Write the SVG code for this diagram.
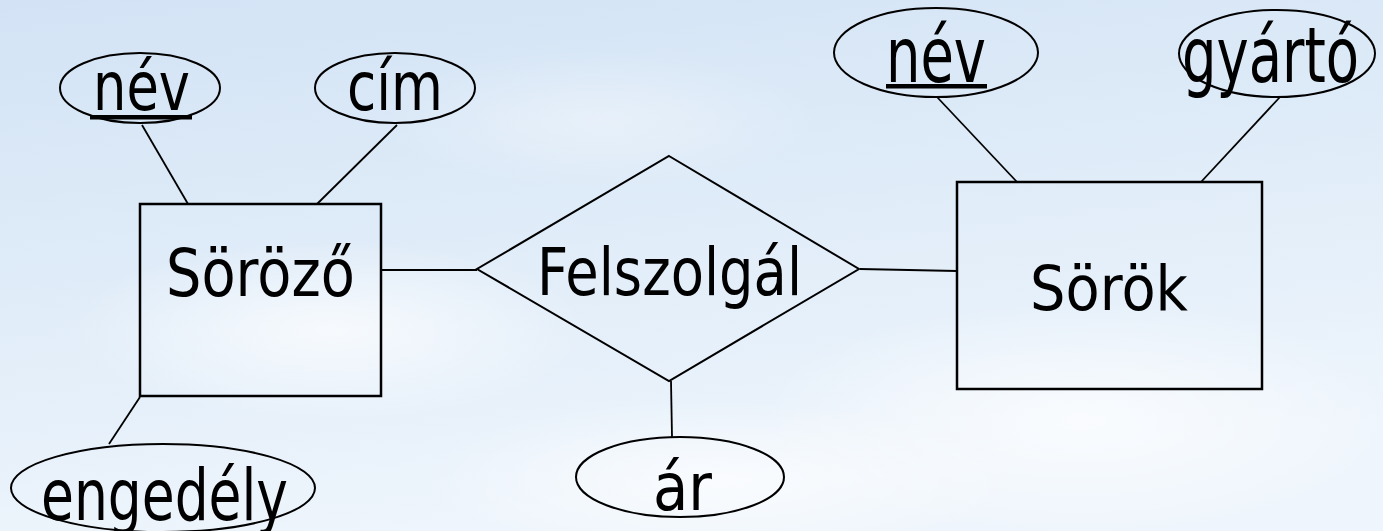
<svg xmlns="http://www.w3.org/2000/svg" width="1383" height="531" viewBox="0 0 1383 531">
<style>
.shape{fill:none;stroke:#000;stroke-width:2}
.box{fill:none;stroke:#000;stroke-width:2.5}
.conn line{stroke:#000;stroke-width:1.8}
text{font-family:"DejaVu Sans","Liberation Sans",sans-serif;fill:#000;text-anchor:start}
</style>
<defs>
<linearGradient id="sky" x1="0" y1="0" x2="0.3" y2="1">
<stop offset="0" stop-color="#d3e3f5"/>
<stop offset="0.45" stop-color="#deebf8"/>
<stop offset="1" stop-color="#eef5fc"/>
</linearGradient>
<radialGradient id="cl" cx="0.5" cy="0.5" r="0.5">
<stop offset="0" stop-color="#ffffff" stop-opacity="0.7"/>
<stop offset="1" stop-color="#ffffff" stop-opacity="0"/>
</radialGradient>
</defs>
<rect width="1383" height="531" fill="url(#sky)"/>
<ellipse cx="1080" cy="420" rx="320" ry="120" fill="url(#cl)"/>
<ellipse cx="330" cy="330" rx="260" ry="90" fill="url(#cl)"/>
<ellipse cx="720" cy="480" rx="300" ry="80" fill="url(#cl)"/>
<ellipse cx="600" cy="120" rx="220" ry="70" fill="url(#cl)" opacity="0.5"/>

<g id="connectors" class="conn">
<line x1="142" y1="125" x2="188" y2="204"/>
<line x1="397" y1="125" x2="317" y2="204"/>
<line x1="937" y1="97" x2="1017" y2="182"/>
<line x1="1280" y1="97" x2="1201" y2="182"/>
<line x1="140" y1="397" x2="109" y2="444"/>
<line x1="381" y1="270" x2="477" y2="270"/>
<line x1="860" y1="269" x2="957" y2="271"/>
<line x1="671" y1="381" x2="672" y2="437"/>
</g>

<g id="sorozo">
<rect class="box" x="140" y="204" width="241" height="192"/>
<text x="166" y="296" font-size="66" textLength="189" lengthAdjust="spacingAndGlyphs">Söröző</text>
</g>
<g id="felszolgal">
<polygon class="shape" points="669,156 859,269 669,381 477,269"/>
<text x="537" y="295" font-size="65" textLength="265" lengthAdjust="spacingAndGlyphs">Felszolgál</text>
</g>
<g id="sorok">
<rect class="box" x="957" y="182" width="305" height="207"/>
<text x="1030" y="310" font-size="63" textLength="158" lengthAdjust="spacingAndGlyphs">Sörök</text>
</g>
<g id="nev1">
<ellipse class="shape" cx="140" cy="88" rx="80" ry="35"/>
<text x="93" y="110" font-size="68" textLength="97" lengthAdjust="spacingAndGlyphs">név</text>
<rect x="90" y="115" width="102" height="4.5" fill="#000"/>
</g>
<g id="cim">
<ellipse class="shape" cx="395" cy="88" rx="80" ry="35"/>
<text x="347" y="110" font-size="68" textLength="96" lengthAdjust="spacingAndGlyphs">cím</text>
</g>
<g id="nev2">
<ellipse class="shape" cx="936" cy="52.5" rx="102" ry="44.5"/>
<text x="886" y="82" font-size="76" textLength="100" lengthAdjust="spacingAndGlyphs">név</text>
<rect x="886" y="84" width="101" height="4.5" fill="#000"/>
</g>
<g id="gyarto">
<ellipse class="shape" cx="1277" cy="53.5" rx="98" ry="43.5"/>
<text x="1182" y="82" font-size="76" textLength="177" lengthAdjust="spacingAndGlyphs">gyártó</text>
</g>
<g id="engedely">
<ellipse class="shape" cx="163" cy="488" rx="152" ry="44"/>
<text x="41" y="520" font-size="72" textLength="247" lengthAdjust="spacingAndGlyphs">engedély</text>
</g>
<g id="ar">
<ellipse class="shape" cx="680" cy="477" rx="104" ry="40"/>
<text x="653" y="510" font-size="66" textLength="59" lengthAdjust="spacingAndGlyphs">ár</text>
</g>
</svg>
